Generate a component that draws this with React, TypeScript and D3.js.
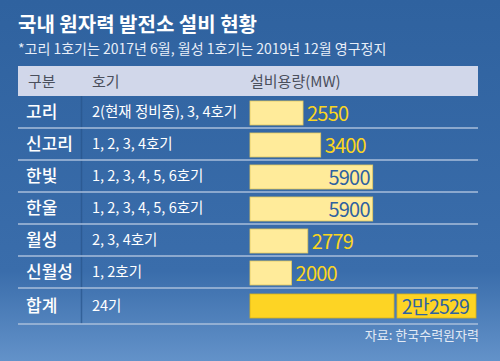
import React from 'react';
import * as d3 from 'd3';

const categories = ['고리', '신고리', '한빛', '한울', '월성', '신월성'];
const units = ['2(현재 정비중), 3, 4호기', '1, 2, 3, 4호기', '1, 2, 3, 4, 5, 6호기', '1, 2, 3, 4, 5, 6호기', '2, 3, 4호기', '1, 2호기'];
const capacity = [2550, 3400, 5900, 5900, 2779, 2000];
const totalLabel = '합계';
const totalUnits = '24기';
const totalCapacity = 22529;
const totalText = '2만2529';
const headers = ['구분', '호기', '설비용량(MW)'];

const W = 500;
const H = 361;
const font = '"Noto Sans CJK KR", "Noto Sans", sans-serif';

const App = () => {
    const left = 18, right = 478;
    const headTop = 66, headBottom = 96;
    const rowH = 32;
    const y = d3.scaleBand<number>().domain(d3.range(categories.length)).range([headBottom, headBottom + rowH * categories.length]);
    const totalTop = headBottom + rowH * categories.length;
    const totalBottom = totalTop + 36;
    // 48 MW per pixel roughly
    const x = d3.scaleLinear().domain([0, 5900]).range([250, 372.7]);
    const barH = 24;
    const boxX = 397, boxW = 79;
    const totalBarEnd = Math.min(x(totalCapacity), boxX - 3);

    return (
        <svg width={W} height={H} style={{ position: 'absolute', left: 0, top: 0 }}>
            <defs>
                <linearGradient id="bg" x1="0" y1="0" x2="0" y2="1">
                    <stop offset="0" stopColor="#2f629f" />
                    <stop offset="0.75" stopColor="#3a6dab" />
                    <stop offset="1" stopColor="#6392c9" />
                </linearGradient>
            </defs>
            <rect width={W} height={H} fill="url(#bg)" />
            <text x={18} y={32} fill="#fff" fontFamily={font} fontSize={20} fontWeight={700}>국내 원자력 발전소 설비 현황</text>
            <text x={18} y={54} fill="#e8eef8" fontFamily={font} fontSize={14}>*고리 1호기는 2017년 6월, 월성 1호기는 2019년 12월 영구정지</text>

            <rect x={left} y={headTop} width={right - left} height={headBottom - headTop} fill="#d1d7ea" />
            {headers.map((h, i) => (
                <text key={h} x={[28, 92, 250][i]} y={87} fill="#4a4f5c" fontFamily={font} fontSize={15}>{h}</text>
            ))}
            <line x1={81.5} x2={81.5} y1={headBottom} y2={totalBottom} stroke="#28558c" strokeWidth={1.5} opacity={0.7} />

            {categories.map((c, i) => {
                const top = y(i)!;
                const cy = top + rowH / 2;
                const inside = capacity[i] >= 5000;
                return (
                    <g key={c}>
                        <text x={26} y={cy + 6} fill="#fff" fontFamily={font} fontSize={17} fontWeight={500}>{c}</text>
                        <text x={92} y={cy + 5} fill="#fff" fontFamily={font} fontSize={14.5}>{units[i]}</text>
                        <rect x={x(0)} y={cy + 1 - barH / 2} width={x(capacity[i]) - x(0)} height={barH} fill="#ffeb9a" stroke="#e2c860" strokeWidth={0.8} />
                        <text x={inside ? x(capacity[i]) - 3 : x(capacity[i]) + 4} y={cy + 8.5}
                              textAnchor={inside ? 'end' : 'start'}
                              fill={inside ? '#2f62a0' : '#fbd51e'} fontFamily={font} fontSize={20} letterSpacing={-0.8}>
                            {capacity[i]}
                        </text>
                        <line x1={left} x2={right} y1={top + rowH} y2={top + rowH} stroke="#a9bedb" strokeWidth={1.5} />
                    </g>
                );
            })}

            <text x={26} y={312} fill="#fff" fontFamily={font} fontSize={17} fontWeight={500}>{totalLabel}</text>
            <text x={92} y={311} fill="#fff" fontFamily={font} fontSize={14.5}>{totalUnits}</text>
            <rect x={x(0)} y={294} width={totalBarEnd - x(0)} height={barH} fill="#fdd424" stroke="#d9b218" strokeWidth={0.8} />
            <rect x={boxX} y={294} width={boxW} height={barH} fill="#fdd424" stroke="#d9b218" strokeWidth={0.8} />
            <text x={boxX + boxW - 7} y={314} textAnchor="end" fill="#2f62a0" fontFamily={font} fontSize={19.5} letterSpacing={-0.8}>{totalText}</text>
            <line x1={left} x2={right} y1={totalBottom} y2={totalBottom} stroke="#a9bedb" strokeWidth={1.5} />

            <text x={479} y={340} textAnchor="end" fill="#e3eaf5" fontFamily={font} fontSize={13}>자료: 한국수력원자력</text>
        </svg>
    );
};

export default App;
